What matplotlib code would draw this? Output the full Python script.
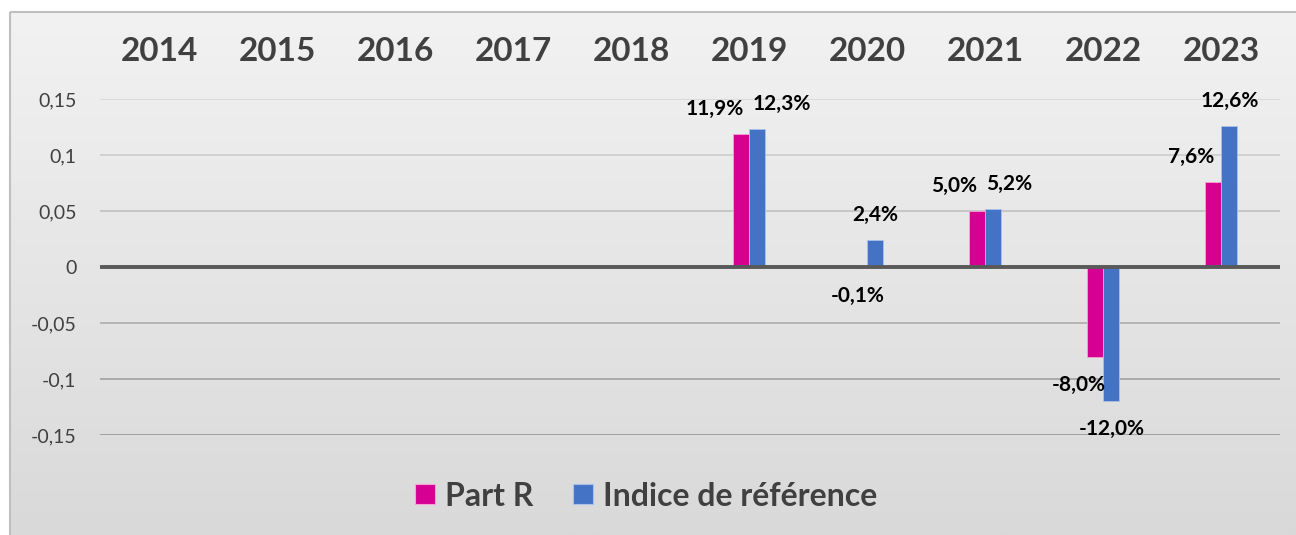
import numpy as np
import matplotlib.pyplot as plt
from matplotlib.patches import Rectangle
from matplotlib.lines import Line2D

# Data
years = ['2014', '2015', '2016', '2017', '2018', '2019', '2020', '2021', '2022', '2023']
part_r = [np.nan, np.nan, np.nan, np.nan, np.nan, 0.119, -0.001, 0.050, -0.080, 0.076]
indice = [np.nan, np.nan, np.nan, np.nan, np.nan, 0.123, 0.024, 0.052, -0.120, 0.126]
yticks = [-0.15, -0.1, -0.05, 0, 0.05, 0.1, 0.15]
ytick_labels = ['-0,15', '-0,1', '-0,05', '0', '0,05', '0,1', '0,15']

# horizontal shift of each data label (pixels), Excel moved some to avoid overlap
part_r_dx = [0, 0, 0, 0, 0, -26, -1, -22, -16, -21]
indice_dx = [0, 0, 0, 0, 0, 24, 0, 16, 0, 0]

pink = '#d60093'
blue = '#4472c4'
text_col = '#404040'

plt.rcParams['font.family'] = ['Lato', 'DejaVu Sans']

fig = plt.figure(figsize=(12.96, 5.35), dpi=100)

# gradient background with frame
bg = fig.add_axes([0, 0, 1, 1], zorder=-10)
bg.set_xlim(0, 1296)
bg.set_ylim(535, 0)
bg.axis('off')
grad = np.linspace(0, 1, 256).reshape(-1, 1)
top_c = np.array([0xf2, 0xf2, 0xf2]) / 255
bot_c = np.array([0xd9, 0xd9, 0xd9]) / 255
img = top_c + (bot_c - top_c) * grad[:, :, None]
bg.imshow(img, extent=[10, 1296, 535, 12], aspect='auto')
bg.add_patch(Rectangle((10, 12), 1300, 540, fill=False, edgecolor='#bfbfbf', lw=1.5))

ax = fig.add_axes([100 / 1296, 1 - 435 / 535, 1180 / 1296, 336 / 535])
ax.set_facecolor('none')

x = np.arange(len(years))
w = 0.135
b1 = ax.bar(x - w / 2 - 0.004, part_r, w, color=pink, edgecolor='#f5a3d4', lw=0.6, zorder=3)
b2 = ax.bar(x + w / 2 + 0.004, indice, w, color=blue, edgecolor='#a9c0ea', lw=0.6, zorder=3)

def fmt(v):
    return f'{v * 100:.1f}%'.replace('.', ',')

for bars, vals, dxs in [(b1, part_r, part_r_dx), (b2, indice, indice_dx)]:
    for rect, v, dx in zip(bars, vals, dxs):
        if np.isnan(v):
            continue
        xc = rect.get_x() + rect.get_width() / 2
        dy = 25 if v >= 0 else -28
        ax.annotate(fmt(v), (xc, v), xytext=(dx, dy), textcoords='offset pixels',
                    ha='center', va='center', fontsize=15, fontweight='bold',
                    color='black', zorder=5)

ax.set_xlim(-0.5, len(years) - 0.5)
ax.set_ylim(-0.15, 0.15)

# gridlines, darker toward the bottom like the reference
for t in yticks:
    if t == 0:
        continue
    f = (0.15 - t) / 0.3
    g = 0.84 - 0.25 * f
    ax.axhline(t, color=(g, g, g), lw=1.2, zorder=1)
ax.axhline(0, color='#595959', lw=2.8, zorder=4)

ax.set_yticks(yticks)
ax.set_yticklabels(ytick_labels, fontsize=14, color=text_col)
ax.tick_params(axis='y', length=0, pad=17)

ax.xaxis.tick_top()
ax.set_xticks(x)
ax.set_xticklabels(years, fontsize=24, fontweight='bold', color=text_col)
ax.tick_params(axis='x', length=0, pad=24)

for s in ax.spines.values():
    s.set_visible(False)

handles = [Line2D([], [], ls='none', marker='s', markersize=14.5, markerfacecolor=pink,
                  markeredgecolor='#f5a3d4', markeredgewidth=0.8, label='Part R'),
           Line2D([], [], ls='none', marker='s', markersize=14.5, markerfacecolor=blue,
                  markeredgecolor='#a9c0ea', markeredgewidth=0.8, label='Indice de référence')]
leg = fig.legend(handles=handles, loc='center', bbox_to_anchor=(646 / 1296, 1 - 496 / 535),
                 ncol=2, frameon=False, handlelength=0.63,
                 handletextpad=0.3, columnspacing=1.25,
                 prop={'size': 23, 'weight': 'bold'})
for t in leg.get_texts():
    t.set_color(text_col)

fig.savefig('out.png', dpi=100)
